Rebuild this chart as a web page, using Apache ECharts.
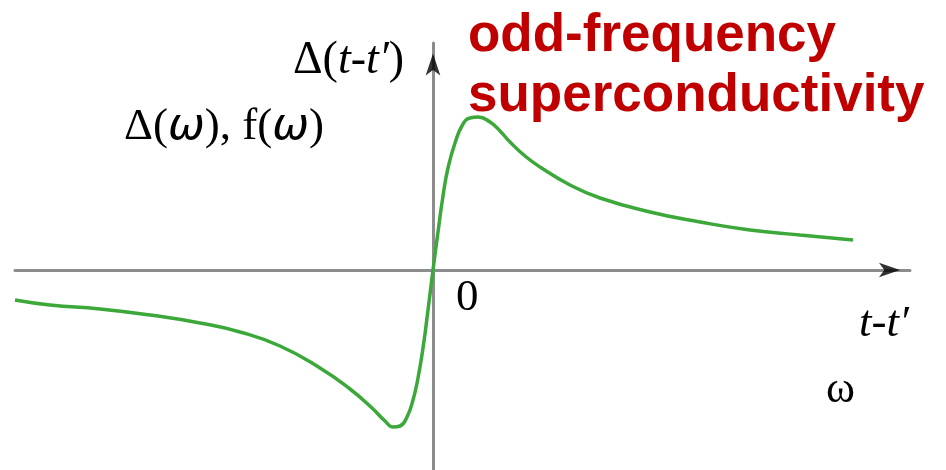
<!DOCTYPE html>
<html>
<head>
<meta charset="utf-8">
<script src="https://cdn.jsdelivr.net/npm/echarts@6/dist/echarts.min.js"></script>
<style>
  html, body { margin: 0; padding: 0; background: #ffffff; }
  #chart { width: 946px; height: 470px; }
</style>
</head>
<body>
<div id="chart"></div>
<script>
// Time difference t - t' (arbitrary units)
const tValues = [
  -4.18, -3.83, -3.33, -2.83, -2.33, -1.93, -1.53, -1.13, -0.83, -0.61,
  -0.48, -0.40, -0.33, -0.26, -0.20, -0.15, -0.10, -0.05, 0.00, 0.05,
  0.10, 0.15, 0.22, 0.30, 0.37, 0.45, 0.57, 0.67, 0.77, 0.92,
  1.07, 1.37, 1.67, 2.17, 2.67, 3.17, 3.67, 4.20
];
// Gap function Δ(t - t'), odd in time
const gapValues = [
  -0.30, -0.35, -0.39, -0.45, -0.53, -0.62, -0.76, -0.98, -1.19, -1.38,
  -1.51, -1.57, -1.56, -1.47, -1.30, -1.08, -0.78, -0.40, 0.00, 0.38,
  0.74, 1.02, 1.27, 1.46, 1.52, 1.53, 1.48, 1.39, 1.28, 1.14,
  1.03, 0.85, 0.72, 0.58, 0.48, 0.40, 0.35, 0.30
];
// Axis extents
const xRange = [-4.18, 4.77];
const yRange = [-2.0, 2.27];

const curve = tValues.map((t, i) => [t, gapValues[i]]);

const chart = echarts.init(document.getElementById('chart'), null, { renderer: 'canvas' });

const axisColor = '#8c8c8c';
const serif = '"Liberation Serif", "Times New Roman", serif';
const sans = '"Liberation Sans", Arial, sans-serif';
const greek = '"DejaVu Sans", sans-serif';

chart.setOption({
  animation: false,
  backgroundColor: '#ffffff',
  grid: { left: 15, right: 36, top: 43, bottom: 0 },
  xAxis: {
    type: 'value',
    min: xRange[0],
    max: xRange[1],
    axisLine: { onZero: true, lineStyle: { color: axisColor, width: 3 } },
    axisTick: { show: false },
    axisLabel: { show: false },
    splitLine: { show: false }
  },
  yAxis: {
    type: 'value',
    min: yRange[0],
    max: yRange[1],
    axisLine: { show: true, onZero: true, lineStyle: { color: axisColor, width: 3 } },
    axisTick: { show: false },
    axisLabel: { show: false },
    splitLine: { show: false }
  },
  series: [
    {
      type: 'line',
      data: curve,
      smooth: 0.5,
      showSymbol: false,
      lineStyle: { color: '#3ca83a', width: 3.5 },
      z: 3
    },
    {
      // arrow heads at the positive ends of both axes
      type: 'scatter',
      clip: false,
      silent: true,
      symbol: 'arrow',
      itemStyle: { color: '#000000' },
      data: [
        { value: [xRange[1] - 0.10, 0], symbolRotate: -90, symbolSize: [11, 21] },
        { value: [0, yRange[1] - 0.105], symbolRotate: 0, symbolSize: [11, 22] }
      ],
      z: 4
    }
  ],
  graphic: [
    {
      type: 'text', left: 293, top: 38,
      style: {
        text: '{n|Δ(}{i|t}{n|-}{i|t′}{n|)}',
        rich: {
          n: { fontFamily: serif, fontSize: 46, fill: '#000' },
          i: { fontFamily: serif, fontSize: 46, fontStyle: 'italic', fill: '#000' }
        }
      }
    },
    {
      type: 'text', left: 124, top: 105,
      style: {
        text: '{n|Δ(}{w|ω}{n|), f(}{w|ω}{n|)}',
        rich: {
          n: { fontFamily: serif, fontSize: 45, fill: '#000' },
          w: { fontFamily: greek, fontSize: 44, fontStyle: 'italic', fill: '#000' }
        }
      }
    },
    {
      type: 'text', left: 468, top: 6,
      style: {
        text: 'odd-frequency\nsuperconductivity',
        font: 'bold 53px ' + sans,
        lineHeight: 60,
        fill: '#c00000'
      }
    },
    {
      type: 'text', left: 456, top: 276,
      style: { text: '0', font: '45px ' + serif, fill: '#000' }
    },
    {
      type: 'text', left: 859, top: 302,
      style: { text: 't-t′', font: 'italic 45px ' + serif, fill: '#000' }
    },
    {
      type: 'text', left: 826, top: 368,
      style: { text: 'ω', font: '44px ' + serif, fill: '#000' }
    }
  ]
});
</script>
</body>
</html>
